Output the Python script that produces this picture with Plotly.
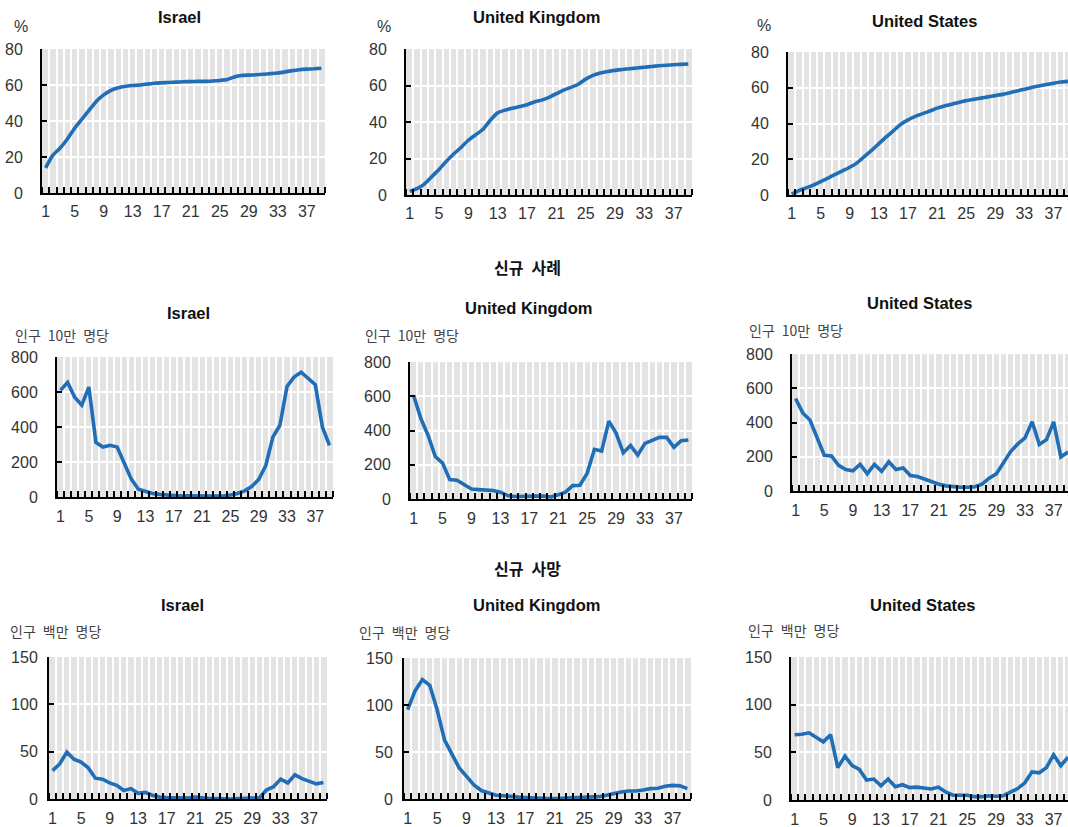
import plotly.graph_objects as go

# Week index shared by all panels
weeks = list(range(1, 40))
week_ticks = list(range(1, 38, 4))

# Share of population vaccinated (%)
vacc_israel = [14, 21, 25, 30, 36, 41, 46, 51, 54.5, 57, 58.5, 59.3, 59.7, 60, 60.5, 61, 61.2, 61.4,
               61.6, 61.8, 61.9, 62, 62, 62.2, 62.5, 63, 64.5, 65.3, 65.5, 65.7, 66, 66.3, 66.7, 67.3,
               68, 68.5, 68.8, 69, 69.3]
vacc_uk = [2, 3.5, 6, 10, 14, 18.5, 22.5, 26, 30, 33, 36, 41, 45, 46.5, 47.5, 48.5, 49.5, 51, 52,
           53.5, 55.5, 57.5, 59, 60.7, 63.5, 65.5, 66.8, 67.7, 68.3, 68.8, 69.2, 69.6, 70, 70.4,
           70.8, 71.1, 71.4, 71.6, 71.8]
vacc_us = [0.5, 2.5, 4, 5.5, 7.5, 9.5, 11.5, 13.5, 15.5, 18, 21.5, 25, 28.7, 32.5, 36, 39.5, 42,
           44, 45.5, 47, 48.6, 49.8, 50.8, 51.8, 52.8, 53.5, 54.2, 54.9, 55.6, 56.3, 57.2, 58.2,
           59.2, 60.2, 61, 61.8, 62.5, 63.2, 63.6]

# New cases per 100,000 population
cases_israel = [610, 655, 570, 525, 628, 312, 285, 295, 285, 190, 102, 44, 30, 20, 15, 10, 8, 5,
                7, 8, 5, 6, 5, 5, 12, 20, 35, 60, 100, 180, 342, 410, 632, 685, 713, 680, 642, 400,
                295]
cases_uk = [605, 470, 372, 248, 210, 113, 110, 85, 58, 55, 52, 50, 40, 20, 15, 17, 18, 17, 17, 12,
            25, 40, 78, 80, 150, 290, 280, 455, 385, 270, 312, 257, 325, 345, 360, 360, 302, 340,
            345]
cases_us = [540, 456, 414, 310, 209, 205, 150, 125, 118, 156, 101, 155, 115, 170, 125, 135, 90,
            85, 70, 50, 40, 30, 25, 22, 22, 25, 40, 75, 100, 165, 230, 275, 310, 404, 272, 300,
            404, 199, 228]

# New deaths per 1,000,000 population
deaths_israel = [30, 37, 49.5, 42, 39, 33, 22, 21, 17, 14.5, 9, 11, 6, 7, 4, 2, 1.5, 1.5, 1, 1, 2,
                 1, 0.5, 0.5, 0, 0, 0.5, 1, 1, 1, 9.5, 13, 21, 17, 25.5, 21.5, 19, 16, 17.5]
deaths_uk = [95, 115, 127, 121, 95, 63, 48, 33, 24, 15, 9, 6, 4, 3.5, 2.5, 2, 1.5, 1, 1, 0.5, 0.5,
             0.7, 1, 1.2, 1.5, 2, 2.5, 4, 6, 7.5, 8.5, 8.5, 9.5, 11, 11.5, 13.5, 14.5, 14, 11]
deaths_us = [68.5, 69, 70.5, 66, 61, 68.5, 34, 46, 36, 32, 21, 22, 15, 22, 14, 16, 13, 13.5, 12.5,
             11.5, 13.5, 8.5, 5, 5, 5, 3.5, 3.5, 4.5, 4, 4.5, 8, 12, 18, 29.5, 28.5, 34, 47.5, 36,
             45]

countries = ["Israel", "United Kingdom", "United States"]
row_series = [
    [vacc_israel, vacc_uk, vacc_us],
    [cases_israel, cases_uk, cases_us],
    [deaths_israel, deaths_uk, deaths_us],
]
row_ticks = [[0, 20, 40, 60, 80], [0, 200, 400, 600, 800], [0, 50, 100, 150]]
row_units = ["%", "인구\u200210만\u2002명당", "인구\u2002백만\u2002명당"]
row_headers = [None, "신규\u2002사례", "신규\u2002사망"]

W, H = 1068, 827
LINE_BLUE = "#1f6eb6"
PANEL_GREY = "#e3e3e3"

# Plot areas in pixels: (left, right, top, bottom)
boxes = [
    [(42, 325, 49, 193), (406, 692, 49, 195), (788, 1068, 52, 195)],
    [(57, 333, 357, 497), (410, 692, 362, 499), (792, 1068, 354, 491)],
    [(49, 327, 657, 799), (404, 691, 658, 799), (791, 1068, 657, 800)],
]
# Gap between x axis line and week labels, per row
x_label_gap = [3, 4, 4]
# Panel title centres (x, y)
title_pos = [
    [(179, 17), (536, 17), (924, 21)],
    [(188, 313), (528, 308), (919, 303)],
    [(182, 605), (536, 605), (923, 605)],
]
# Unit label anchors (centre x for %, left x otherwise; y)
unit_pos = [
    [(21, 26), (384, 26), (764, 25)],
    [(13, 335), (363, 335), (747, 330)],
    [(8, 631), (357, 632), (746, 630)],
]
header_pos = [None, (527, 267), (527, 568)]

fig = go.Figure()
layout = dict(
    width=W, height=H, margin=dict(l=0, r=0, t=0, b=0, autoexpand=False),
    paper_bgcolor="white", plot_bgcolor=PANEL_GREY, showlegend=False,
    font=dict(family="Liberation Sans, Arial, sans-serif", color="#333333", size=16),
)
annotations = []

idx = 0
for r in range(3):
    for c in range(3):
        idx += 1
        sfx = "" if idx == 1 else str(idx)
        left, right, top, bottom = boxes[r][c]
        x_end = 39.0 if c == 2 else 39.5
        fig.add_trace(go.Scatter(
            x=weeks, y=row_series[r][c], xaxis="x" + sfx, yaxis="y" + sfx,
            mode="lines", hoverinfo="skip",
            line=dict(color=LINE_BLUE, width=3.6,
                      shape="spline" if r == 0 else "linear", smoothing=0.5),
        ))
        layout["xaxis" + sfx] = dict(
            domain=[left / W, right / W], anchor="y" + sfx, automargin=False,
            range=[0.5, x_end], tickvals=week_ticks, ticks="", showgrid=False,
            zeroline=False, showline=True, linecolor="black", linewidth=2,
            ticklabelstandoff=x_label_gap[r],
            tickfont=dict(size=16, color="#333333"),
            minor=dict(tick0=0.5, dtick=1, ticks="inside", ticklen=6,
                       tickcolor="black", tickwidth=2, showgrid=True,
                       gridcolor="white", gridwidth=2),
        )
        yt = row_ticks[r]
        layout["yaxis" + sfx] = dict(
            domain=[1 - bottom / H, 1 - top / H], anchor="x" + sfx, automargin=False,
            range=[0, yt[-1]], tickvals=yt, ticks="inside", ticklen=5,
            tickcolor="black", tickwidth=2, showgrid=True, gridcolor="white",
            gridwidth=2, zeroline=False, showline=True, linecolor="black",
            linewidth=2, ticklabelstandoff=14 if not (r == 2 and c < 2) else 6,
            tickfont=dict(size=16, color="#333333"),
        )
        tx, ty = title_pos[r][c]
        annotations.append(dict(
            text="<b>" + countries[c] + "</b>", x=tx / W, y=1 - ty / H,
            xref="paper", yref="paper", xanchor="center", yanchor="middle",
            showarrow=False, font=dict(size=16.5, color="#111111",
                                       family="Liberation Sans, Arial, sans-serif"),
        ))
        ux, uy = unit_pos[r][c]
        if r == 0:
            annotations.append(dict(
                text=row_units[r], x=ux / W, y=1 - uy / H, xref="paper", yref="paper",
                xanchor="center", yanchor="middle", showarrow=False,
                font=dict(size=16, color="#333333"),
            ))
        else:
            annotations.append(dict(
                text=row_units[r], x=ux / W, y=1 - uy / H, xref="paper", yref="paper",
                xanchor="left", yanchor="middle", showarrow=False,
                font=dict(size=14, color="#444444", family="Noto Sans CJK KR"),
            ))

for r in range(3):
    if row_headers[r]:
        hx, hy = header_pos[r]
        annotations.append(dict(
            text="<b>" + row_headers[r] + "</b>", x=hx / W, y=1 - hy / H,
            xref="paper", yref="paper", xanchor="center", yanchor="middle",
            showarrow=False, font=dict(size=16, color="#111111", family="Noto Sans CJK KR"),
        ))

layout["annotations"] = annotations
fig.update_layout(**layout)
fig.write_html("out.html")
